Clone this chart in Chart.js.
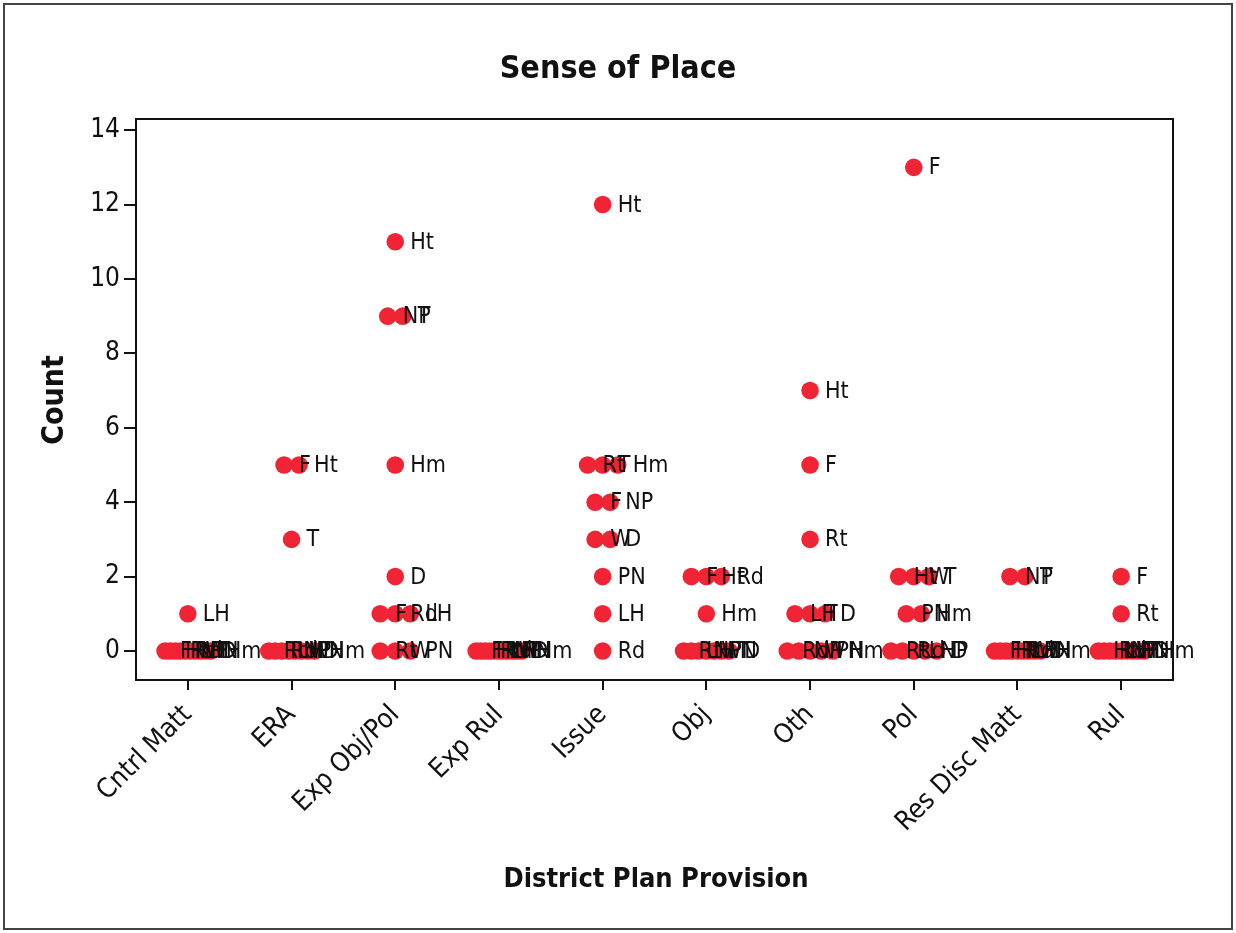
<!DOCTYPE html>
<html>
<head>
<meta charset="utf-8">
<script src="https://cdn.jsdelivr.net/npm/chart.js@4/dist/chart.umd.min.js"></script>
<style>
html,body{margin:0;padding:0;background:#fff;}
#wrap{position:relative;width:1236px;height:933px;}
</style>
</head>
<body>
<div id="wrap"><canvas id="c" width="1236" height="933"></canvas></div>
<script>
// ---- data ----
const categories = ["Cntrl Matt","ERA","Exp Obj/Pol","Exp Rul","Issue","Obj","Oth","Pol","Res Disc Matt","Rul"];
const codes = ["F","Ht","Rt","Rd","LH","NP","W","PN","T","D","Hm"];
// counts per category, in the order of `codes`
const cntrlMatt   = [0,0,0,0,1,0,0,0,0,0,0];
const era         = [5,5,0,0,0,0,0,0,3,0,0];
const expObjPol   = [1,11,0,1,1,9,0,0,9,2,5];
const expRul      = [0,0,0,0,0,0,0,0,0,0,0];
const issue       = [4,12,5,0,1,4,3,2,5,3,5];
const obj         = [2,2,0,2,0,0,0,0,0,0,1];
const oth         = [5,7,3,0,1,0,0,0,1,1,0];
const pol         = [13,2,0,0,0,0,2,1,2,0,1];
const resDiscMatt = [0,0,0,0,0,2,0,0,2,0,0];
const rul         = [2,0,1,0,0,0,0,0,0,0,0];
const yTicks = [0,2,4,6,8,10,12,14];

const countsByCategory = [cntrlMatt, era, expObjPol, expRul, issue, obj, oth, pol, resDiscMatt, rul];

// ---- build points (dots sharing a value spread side by side) ----
const STEP = 0.145, MAXSPAN = 0.44;
const points = [];
countsByCategory.forEach((arr, ci) => {
  const groups = {};
  arr.forEach((v, k) => { (groups[v] = groups[v] || []).push(k); });
  Object.keys(groups).forEach(v => {
    const g = groups[v], n = g.length;
    const step = n > 1 ? Math.min(STEP, MAXSPAN / (n - 1)) : 0;
    g.forEach((k, j) => {
      points.push({x: ci + (j - (n - 1) / 2) * step, y: Number(v), label: codes[k]});
    });
  });
});

const FONT = "'DejaVu Sans Condensed','DejaVu Sans',Verdana,sans-serif";

const decor = {
  id: 'decor',
  afterDatasetsDraw(chart) {
    const ctx = chart.ctx;
    const meta = chart.getDatasetMeta(0);
    ctx.save();
    ctx.fillStyle = '#111';
    ctx.font = "23px " + FONT;
    ctx.textBaseline = 'middle';
    ctx.textAlign = 'left';
    meta.data.forEach((el, i) => {
      ctx.fillText(points[i].label, el.x + 15, el.y + 1);
    });
    ctx.restore();
  },
  afterDraw(chart) {
    const ctx = chart.ctx, a = chart.chartArea;
    ctx.save();
    // plot frame
    ctx.strokeStyle = '#111';
    ctx.lineWidth = 2;
    ctx.strokeRect(a.left, a.top, a.right - a.left, a.bottom - a.top);
    // outer frame
    ctx.strokeStyle = '#444';
    ctx.lineWidth = 2;
    ctx.strokeRect(4, 4, 1228, 925);
    // titles
    ctx.fillStyle = '#111';
    ctx.textAlign = 'center';
    ctx.textBaseline = 'middle';
    ctx.font = "bold 32px " + FONT;
    ctx.fillText("Sense of Place", 618, 70);
    ctx.font = "bold 27px " + FONT;
    ctx.fillText("District Plan Provision", 656, 880);
    ctx.translate(55, 400);
    ctx.rotate(-Math.PI / 2);
    ctx.font = "bold 30px " + FONT;
    ctx.fillText("Count", 0, 0);
    ctx.restore();
  }
};

new Chart(document.getElementById('c'), {
  type: 'scatter',
  data: {
    datasets: [{
      data: points,
      backgroundColor: 'rgba(240,36,52,1)',
      borderWidth: 0,
      pointRadius: 8.8,
      pointHoverRadius: 8.8
    }]
  },
  options: {
    responsive: false,
    animation: false,
    events: [],
    layout: {padding: {left: 0, top: 119, right: 63, bottom: 0}},
    plugins: {legend: {display: false}, tooltip: {enabled: false}, title: {display: false}},
    scales: {
      x: {
        type: 'linear', min: -0.5, max: 9.5,
        afterBuildTicks: s => { s.ticks = categories.map((c, i) => ({value: i})); },
        afterFit: s => { s.height = 253; },
        grid: {drawOnChartArea: false, drawTicks: true, tickLength: 10, color: '#111', lineWidth: 2},
        border: {display: true, color: '#111', width: 2},
        ticks: {
          autoSkip: false, minRotation: 45, maxRotation: 45, padding: 9,
          color: '#111', font: {family: FONT, size: 27},
          callback: v => categories[v]
        }
      },
      y: {
        type: 'linear', min: -0.78, max: 14.3,
        afterBuildTicks: s => { s.ticks = yTicks.map(v => ({value: v})); },
        afterFit: s => { s.width = 136; },
        grid: {drawOnChartArea: false, drawTicks: true, tickLength: 12, color: '#111', lineWidth: 2},
        border: {display: true, color: '#111', width: 2},
        ticks: {padding: 4, color: '#111', font: {family: FONT, size: 26}}
      }
    }
  },
  plugins: [decor]
});
</script>
</body>
</html>
